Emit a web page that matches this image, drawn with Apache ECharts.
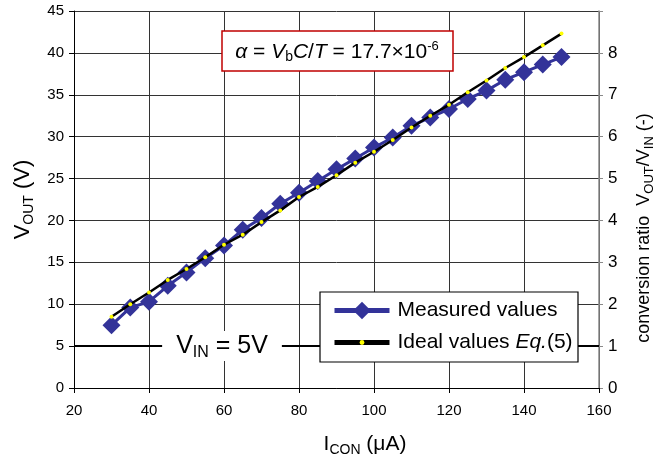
<!DOCTYPE html>
<html>
<head>
<meta charset="utf-8">
<script src="https://cdn.jsdelivr.net/npm/echarts@6/dist/echarts.min.js"></script>
<style>
  html, body { margin: 0; padding: 0; background: #fff; }
  #chart { width: 669px; height: 457px; }
</style>
</head>
<body>
<div id="chart"></div>
<script>
// I_CON (uA)
const currents = [30, 35, 40, 45, 50, 55, 60, 65, 70, 75, 80, 85, 90, 95, 100, 105, 110, 115, 120, 125, 130, 135, 140, 145, 150]
// V_OUT (V), measured
const measured = [7.5, 9.6, 10.3, 12.2, 13.8, 15.5, 17.0, 18.9, 20.3, 22.0, 23.3, 24.7, 26.1, 27.4, 28.7, 29.9, 31.3, 32.3, 33.3, 34.5, 35.5, 36.8, 37.7, 38.6, 39.5]
// V_OUT (V), ideal Eq.(5)
const ideal = [8.5, 10.0, 11.4, 12.9, 14.2, 15.6, 17.1, 18.3, 19.8, 21.2, 22.8, 24.0, 25.4, 26.9, 28.2, 29.6, 31.1, 32.5, 33.8, 35.3, 36.7, 38.2, 39.5, 40.9, 42.3]
const vIn = 5

const FONT = 'Liberation Sans'
const gridColor = '#333333'

let myChart = echarts.init(document.getElementById('chart'))

// rich styles for sub / superscripts
const subStyle = (size, lh) => ({ fontSize: size, fontFamily: FONT, color: '#000', verticalAlign: 'bottom', lineHeight: lh })
const supStyle = (size) => ({ fontSize: size, fontFamily: FONT, color: '#000', verticalAlign: 'top', lineHeight: size })

let option = {
  animation: false,
  backgroundColor: '#fff',
  grid: { left: 74, right: 70, top: 11, bottom: 69, outerBoundsMode: 'none' },
  xAxis: {
    type: 'value',
    min: 20,
    max: 160,
    interval: 20,
    name: 'I{s|CON} (μA)',
    nameLocation: 'middle',
    nameGap: 43,
    nameTextStyle: {
      fontSize: 21, fontFamily: FONT, color: '#000', lineHeight: 26,
      padding: [0, 0, 0, 57],
      rich: { s: subStyle(14, 12) }
    },
    axisLine: { lineStyle: { color: '#000', width: 1 } },
    axisTick: { length: 5, lineStyle: { color: '#000' } },
    axisLabel: { fontSize: 15, fontFamily: FONT, color: '#000', margin: 15 },
    splitLine: { show: true, lineStyle: { color: gridColor, width: 1 } }
  },
  yAxis: [
    {
      type: 'value',
      min: 0,
      max: 45,
      interval: 5,
      name: 'V{s|OUT} (V)',
      nameLocation: 'middle',
      nameGap: 38,
      nameTextStyle: {
        fontSize: 22, fontFamily: FONT, color: '#000', lineHeight: 27,
        rich: { s: subStyle(14, 12) }
      },
      axisLine: { show: true, lineStyle: { color: '#000', width: 1 } },
      axisTick: { show: true, length: 5, lineStyle: { color: '#000' } },
      axisLabel: { fontSize: 15, fontFamily: FONT, color: '#000', margin: 10 },
      splitLine: { show: true, lineStyle: { color: gridColor, width: 1 } }
    },
    {
      type: 'value',
      position: 'right',
      min: 0,
      max: 9,
      interval: 1,
      name: 'conversion ratio  V{s|OUT}/V{s|IN} (-)',
      nameLocation: 'middle',
      nameGap: 34,
      nameTextStyle: {
        fontSize: 18, fontFamily: FONT, color: '#000', lineHeight: 23,
        padding: [0, 57, 0, 0],
        rich: { s: subStyle(13, 11) }
      },
      axisLine: { show: true, lineStyle: { color: '#8a8a8a', width: 1.5 } },
      axisTick: { show: true, length: 4, lineStyle: { color: '#8a8a8a' } },
      axisLabel: {
        fontSize: 17, fontFamily: FONT, color: '#000', margin: 9,
        formatter: v => (v > 8 ? '' : v)
      },
      splitLine: { show: false }
    }
  ],
  legend: [
    {
      data: ['Measured values'],
      left: 332,
      top: 300,
      padding: 0,
      itemWidth: 55,
      itemHeight: 22,
      selectedMode: false,
      z: 20,
      lineStyle: { width: 5 },
      textStyle: { fontSize: 21, fontFamily: FONT, color: '#000', padding: [0, 0, 0, 3] }
    },
    {
      data: ['Ideal values Eq.(5)'],
      left: 332,
      top: 332,
      padding: 0,
      itemWidth: 55,
      itemHeight: 6,
      selectedMode: false,
      z: 20,
      lineStyle: { width: 5 },
      formatter: () => 'Ideal values {i|Eq.}(5)',
      textStyle: {
        fontSize: 21, fontFamily: FONT, color: '#000', padding: [0, 0, 0, 3],
        rich: { i: { fontSize: 21, fontFamily: FONT, fontStyle: 'italic', color: '#000' } }
      }
    }
  ],
  graphic: [
    // formula box
    {
      type: 'rect',
      z: 10,
      shape: { x: 222, y: 31, width: 231, height: 40 },
      style: { fill: '#fff', stroke: '#c00000', lineWidth: 1.5 }
    },
    {
      type: 'text',
      z: 11,
      x: 337,
      y: 52,
      style: {
        text: '{i|α} = {i|V}{s|b}{i|C}/{i|T} = 17.7×10{p|-6}',
        font: '21px "Liberation Sans"',
        fill: '#000',
        align: 'center',
        verticalAlign: 'middle',
        lineHeight: 25,
        rich: {
          i: { fontSize: 21, fontFamily: FONT, fontStyle: 'italic', lineHeight: 25 },
          s: subStyle(14, 12),
          p: supStyle(13)
        }
      }
    },
    // legend frame
    {
      type: 'rect',
      z: 10,
      shape: { x: 320, y: 292, width: 258, height: 70 },
      style: { fill: '#fff', stroke: '#000', lineWidth: 1.2 }
    },
    // V_IN label on the 5 V line
    {
      type: 'text',
      z: 11,
      x: 222,
      y: 346,
      style: {
        text: 'V{s|IN} = 5V',
        font: '25px "Liberation Sans"',
        fill: '#000',
        align: 'center',
        verticalAlign: 'middle',
        lineHeight: 30,
        backgroundColor: '#fff',
        padding: [0, 14],
        rich: { s: subStyle(16, 14) }
      }
    }
  ],
  series: [
    {
      name: 'Measured values',
      type: 'line',
      data: currents.map((c, i) => [c, measured[i]]),
      symbol: 'diamond',
      symbolSize: 18,
      color: '#333399',
      lineStyle: { color: '#333399', width: 3 },
      itemStyle: { color: '#333399' },
      z: 2,
      markLine: {
        silent: true,
        symbol: 'none',
        label: { show: false },
        lineStyle: { color: '#000', width: 2, type: 'solid' },
        data: [{ yAxis: vIn }]
      }
    },
    {
      name: 'Ideal values Eq.(5)',
      type: 'line',
      data: currents.map((c, i) => [c, ideal[i]]),
      symbol: 'circle',
      symbolSize: 4,
      color: '#000',
      lineStyle: { color: '#000', width: 2.5 },
      itemStyle: { color: '#ffff00', borderWidth: 0 },
      z: 3
    }
  ]
}
myChart.setOption(option, true)
</script>
</body>
</html>
